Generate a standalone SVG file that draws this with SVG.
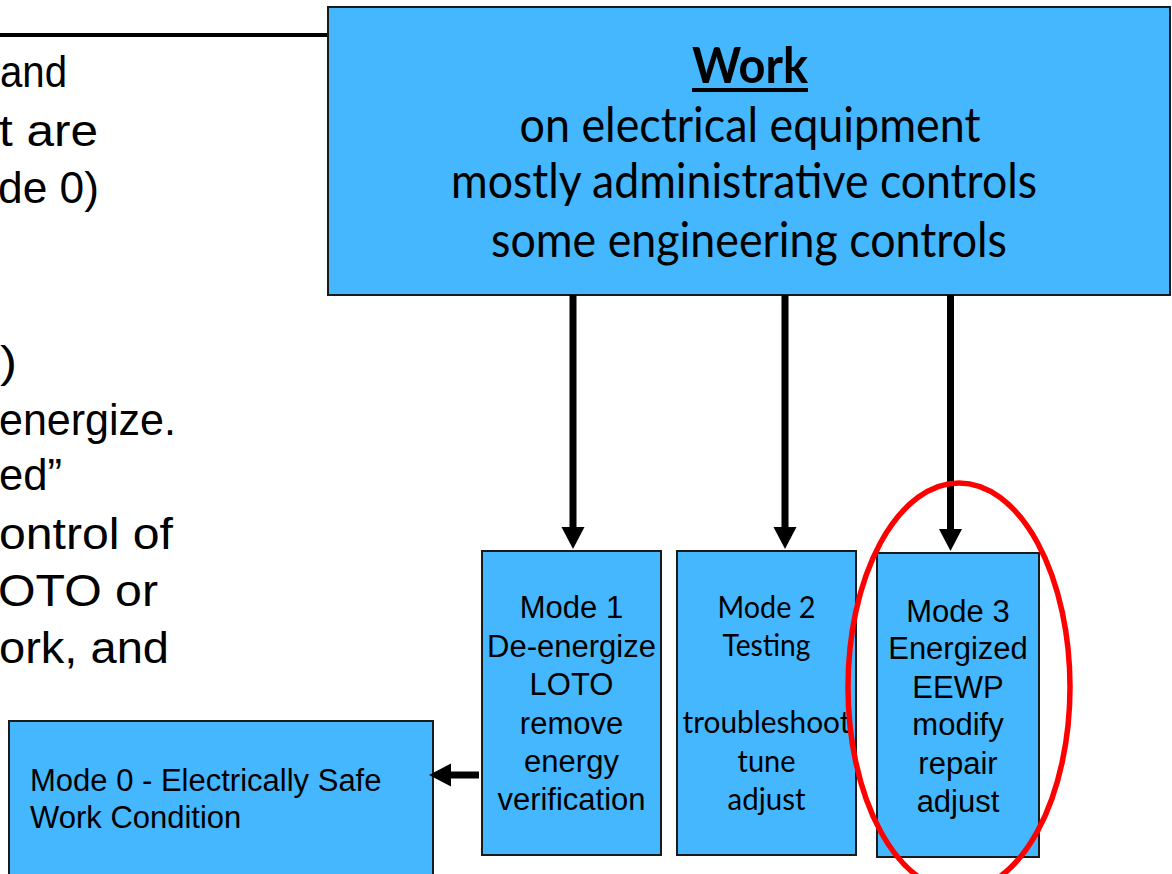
<svg xmlns="http://www.w3.org/2000/svg" width="1172" height="874" viewBox="0 0 1172 874">
<style>
.box{fill:#44B7FF;stroke:#1a1a1a;stroke-width:2}
.ar{font-family:"Liberation Sans",Arial,sans-serif;fill:#000}
.cal{font-family:Lato,"Open Sans",sans-serif;fill:#000}
.side{font-family:"Liberation Sans",Arial,sans-serif;font-size:45px;fill:#000}
.m{font-size:31px;text-anchor:middle}
.conn{stroke:#000;stroke-width:7;fill:none}
</style>
<defs>
<marker id="head" markerUnits="userSpaceOnUse" markerWidth="24" markerHeight="24" refX="3" refY="11.5" orient="auto">
<path d="M0,0 L22,11.5 L0,23 Z" fill="#000"/>
</marker>
</defs>
<rect width="1172" height="874" fill="#fff"/>
<g id="side-text">
<line x1="0" y1="35" x2="330" y2="35" stroke="#000" stroke-width="4"/>
<text class="side" x="0" y="87" textLength="67" lengthAdjust="spacingAndGlyphs">and</text>
<text class="side" x="-1" y="146" textLength="99" lengthAdjust="spacingAndGlyphs">t are</text>
<text class="side" x="-2" y="203" textLength="101" lengthAdjust="spacingAndGlyphs">de 0)</text>
<text class="side" x="0" y="377" textLength="17" lengthAdjust="spacingAndGlyphs">)</text>
<text class="side" x="-1" y="435" textLength="177" lengthAdjust="spacingAndGlyphs">energize.</text>
<text class="side" x="-1" y="490" textLength="63" lengthAdjust="spacingAndGlyphs">ed”</text>
<text class="side" x="-1" y="549" textLength="174" lengthAdjust="spacingAndGlyphs">ontrol of</text>
<text class="side" x="-2" y="606" textLength="160" lengthAdjust="spacingAndGlyphs">OTO or</text>
<text class="side" x="-1" y="663" textLength="170" lengthAdjust="spacingAndGlyphs">ork, and</text>
</g>
<g id="work">
<rect class="box" x="328" y="7" width="842" height="288"/>
<text class="cal" x="750" y="83" font-size="50" font-weight="bold" text-anchor="middle" textLength="116" lengthAdjust="spacingAndGlyphs">Work</text>
<rect x="692" y="88" width="116" height="4" fill="#000"/>
<text class="cal" x="750" y="142" font-size="49" text-anchor="middle" textLength="461" lengthAdjust="spacingAndGlyphs">on electrical equipment</text>
<text class="cal" x="744" y="198" font-size="49" text-anchor="middle" textLength="586" lengthAdjust="spacingAndGlyphs">mostly administrative controls</text>
<text class="cal" x="749" y="257" font-size="49" text-anchor="middle" textLength="516" lengthAdjust="spacingAndGlyphs">some engineering controls</text>
</g>
<g id="mode0">
<rect class="box" x="9" y="721" width="424" height="200"/>
<text class="ar" x="30" y="791" font-size="31">Mode 0 - Electrically Safe</text>
<text class="ar" x="30" y="828" font-size="31">Work Condition</text>
</g>
<g id="mode1">
<rect class="box" x="482" y="551" width="179" height="304"/>
<text class="ar m" x="571.5" y="618">Mode 1</text>
<text class="ar m" x="571.5" y="657">De-energize</text>
<text class="ar m" x="571.5" y="695">LOTO</text>
<text class="ar m" x="571.5" y="734">remove</text>
<text class="ar m" x="571.5" y="772">energy</text>
<text class="ar m" x="571.5" y="810">verification</text>
</g>
<g id="mode2">
<rect class="box" x="677" y="551" width="179" height="304"/>
<text class="cal m" x="766.5" y="618" textLength="98" lengthAdjust="spacingAndGlyphs">Mode 2</text>
<text class="cal m" x="766.5" y="656" textLength="88" lengthAdjust="spacingAndGlyphs">Testing</text>
<text class="cal m" x="766.5" y="733" textLength="168" lengthAdjust="spacingAndGlyphs">troubleshoot</text>
<text class="cal m" x="766.5" y="772" textLength="58" lengthAdjust="spacingAndGlyphs">tune</text>
<text class="cal m" x="766.5" y="810" textLength="78" lengthAdjust="spacingAndGlyphs">adjust</text>
</g>
<g id="mode3">
<rect class="box" x="877" y="553" width="162" height="304"/>
<text class="ar m" x="958" y="622">Mode 3</text>
<text class="ar m" x="958" y="659">Energized</text>
<text class="ar m" x="958" y="698">EEWP</text>
<text class="ar m" x="958" y="735">modify</text>
<text class="ar m" x="958" y="774">repair</text>
<text class="ar m" x="958" y="812">adjust</text>
</g>
<g id="connectors">
<line class="conn" x1="573" y1="295" x2="573" y2="530" marker-end="url(#head)"/>
<line class="conn" x1="785" y1="295" x2="785" y2="530" marker-end="url(#head)"/>
<line class="conn" x1="950.5" y1="295" x2="950.5" y2="532" marker-end="url(#head)"/>
<line class="conn" x1="479" y1="775" x2="448" y2="775" marker-end="url(#head)"/>
</g>
<g id="highlight">
<ellipse cx="959" cy="687" rx="111" ry="204" fill="none" stroke="#FF0000" stroke-width="5.5"/>
</g>
</svg>
